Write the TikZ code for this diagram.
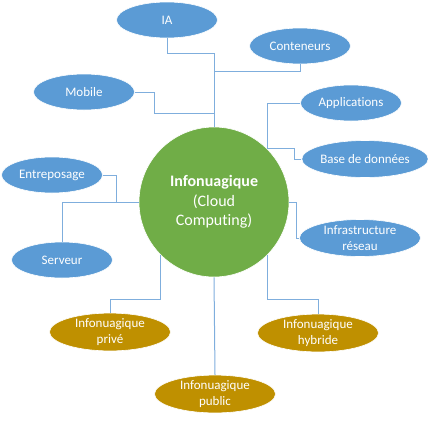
\documentclass[tikz,border=0pt]{standalone}
\usepackage{fontspec}
\setmainfont{Carlito}[Ligatures=NoCommon]
\usetikzlibrary{shapes.geometric}
\definecolor{bleu}{HTML}{5B9BD5}
\definecolor{lien}{HTML}{7FAEDD}
\definecolor{vert}{HTML}{70AD47}
\definecolor{or}{HTML}{BF9000}
\begin{document}
\begin{tikzpicture}[x=1pt,y=-1pt,
	bulle/.style={ellipse, fill=bleu, draw=white, line width=0.6pt, text=white, inner sep=0pt,
		minimum width=101pt, minimum height=36pt, align=center,
		font=\fontsize{13}{15.7}\selectfont},
	large/.style={minimum width=121pt, minimum height=37pt},
	nuage/.style={bulle, large, fill=or},
	lien/.style={draw=lien, line width=1pt}]
	\useasboundingbox (0,0) rectangle (428,421);
	\node[circle, fill=vert, draw=white, line width=0.6pt, text=white, minimum size=150pt, inner sep=0pt,
		align=center, font=\fontsize{16}{19.3}\selectfont] (cloud) at (214,202)
		{\textbf{Infonuagique}\\(Cloud\\Computing)};
	\node[bulle] (ia) at (167,20) {IA};
	\node[bulle] (cont) at (300,46) {Conteneurs};
	\node[bulle] (mobile) at (84,92) {Mobile};
	\node[bulle] (app) at (351,103) {Applications};
	\node[bulle, large] (bdd) at (365,159) {Base de données};
	\node[bulle] (entre) at (52,175) {Entreposage};
	\node[bulle] (serv) at (62,260) {Serveur};
	\node[bulle, large] (infra) at (360,238) {Infrastructure\\réseau};
	\node[nuage] (prive) at (110,332) {Infonuagique\\privé};
	\node[nuage] (hybride) at (318,333) {Infonuagique\\hybride};
	\node[nuage] (public) at (215,394) {Infonuagique\\public};
	% liens
	\draw[lien] (ia.south) -- ++(0,15) -| (cloud.north);
	\draw[lien] (cont.south) -- ++(0,7) -| (cloud.north);
	\draw[lien] (mobile.east) -| ++(20,21) -| (cloud.north);
	\draw[lien] (app.west) -| (cloud.45);
	\draw[lien] (bdd.west) -- ++(-7,0) |- (cloud.45);
	\draw[lien] (cloud.east) -- ++(7,0) |- (infra.west);
	\draw[lien] (entre.east) -- ++(14,0) |- (cloud.west);
	\draw[lien] (serv.north) |- (cloud.west);
	\draw[lien] (cloud.225) -- ++(0,44) -| (prive.north);
	\draw[lien] (cloud.315) -- ++(0,44) -| (hybride.north);
	\draw[lien] (cloud.south) -- (public.north);
\end{tikzpicture}
\end{document}
